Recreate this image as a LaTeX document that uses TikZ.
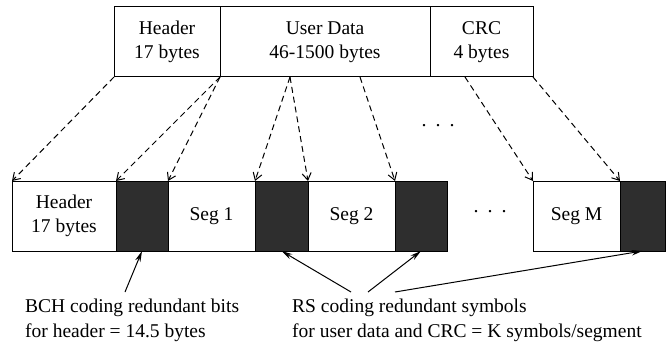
\documentclass[tikz,border=0pt]{standalone}
\usepackage{fontspec}
\setmainfont{Liberation Serif}
\usepackage{tikz}
\usetikzlibrary{positioning, arrows.meta}

\begin{document}
\begin{tikzpicture}[x=1pt, y=-1pt,
    field/.style={draw, line width=1pt, outer sep=0pt, minimum height=70pt, align=center, inner sep=0pt, font=\rmfamily\fontsize{19.5}{23.5}\selectfont},
    redund/.style={field, fill=black!82},
    note/.style={inner sep=0pt, align=left, font=\rmfamily\fontsize{19.5}{25}\selectfont},
    copyarrow/.style={line width=1pt, dash pattern=on 6pt off 4pt, -{Straight Barb[length=7pt, width=9pt]}},
    notearrow/.style={line width=1pt, -{Stealth[length=11pt, width=5.5pt]}}]

\useasboundingbox (0,0) rectangle (666,350);

% Frame on top
\node[field, minimum width=106pt, anchor=north west] (hdr) at (114,7) {Header\\17 bytes};
\node[field, minimum width=210pt, right=0pt of hdr] (data) {User Data\\46-1500 bytes};
\node[field, minimum width=103pt, right=0pt of data] (crc) {CRC\\4 bytes};

% Coded frame
\node[field, minimum width=104pt, anchor=north west] (bhdr) at (12,181) {Header\\17 bytes};
\node[redund, minimum width=52pt, right=0pt of bhdr] (r0) {};
\node[field, minimum width=87pt, right=0pt of r0] (seg1) {Seg 1};
\node[redund, minimum width=53pt, right=0pt of seg1] (r1) {};
\node[field, minimum width=87pt, right=0pt of r1] (seg2) {Seg 2};
\node[redund, minimum width=52pt, right=0pt of seg2] (r2) {};
\node[field, minimum width=87pt, anchor=north west] (segM) at (533,181) {Seg M};
\node[redund, minimum width=45pt, right=0pt of segM] (rM) {};

% Dots
\node[font=\rmfamily\fontsize{20}{24}\selectfont] (dotsA) at (438,126) {.\hspace{9pt}.\hspace{9pt}.};
\node[font=\rmfamily\fontsize{20}{24}\selectfont] (dotsB) at (490,212) {.\hspace{9pt}.\hspace{9pt}.};

% Cut points in the user data field
\coordinate (cut1) at (290,77);
\coordinate (cut2) at (360,77);
\coordinate (cut3) at (465,77);

\draw[copyarrow] (hdr.south west) -- (bhdr.north west);
\draw[copyarrow] (hdr.south east) -- (r0.north west);
\draw[copyarrow] (hdr.south east) -- (r0.north east);
\draw[copyarrow] (cut1) -- (r1.north west);
\draw[copyarrow] (cut1) -- (r1.north east);
\draw[copyarrow] (cut2) -- (r2.north west);
\draw[copyarrow] (cut3) -- (segM.north west);
\draw[copyarrow] (crc.south east) -- (segM.north east);

% Notes
\node[note, anchor=north west] (bch) at (25,299) {BCH coding redundant bits\\for header = 14.5 bytes};
\node[note, anchor=north west] (rs) at (292,299) {RS coding redundant symbols\\for user data and CRC = K symbols/segment};

\coordinate (bchtail) at (125,292);
\coordinate (rstailA) at (351,292);
\coordinate (rstailB) at (368,292);
\coordinate (rstailC) at (395,292);

\draw[notearrow] (bchtail) -- (r0.south);
\draw[notearrow] (rstailA) -- (r1.south);
\draw[notearrow] (rstailB) -- (r2.south);
\draw[notearrow] (rstailC) -- (rM.south);

\end{tikzpicture}
\end{document}
